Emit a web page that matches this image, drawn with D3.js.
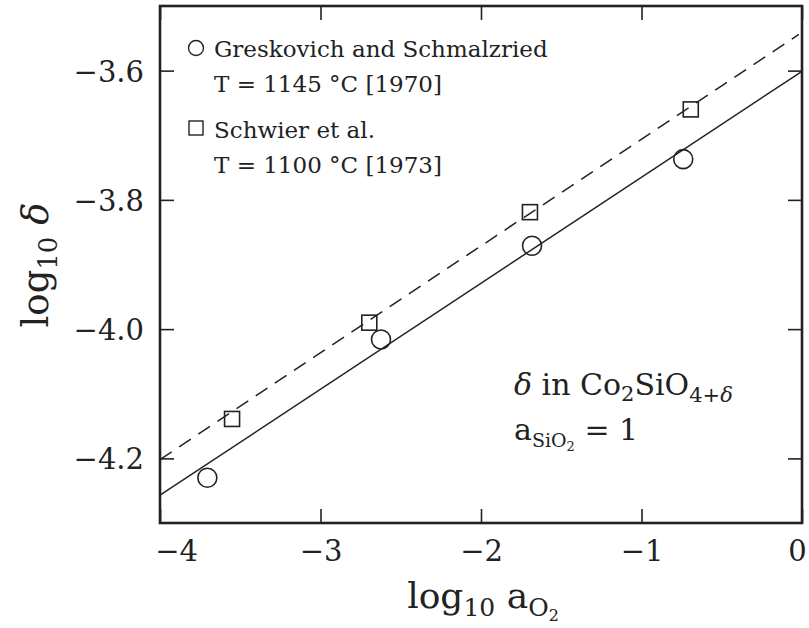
<!DOCTYPE html>
<html><head><meta charset="utf-8">
<script src="https://cdn.jsdelivr.net/npm/d3@7"></script>
<style>
body{margin:0;background:#fff}
text{font-family:"DejaVu Serif",serif;fill:#222}
</style>
</head><body>
<svg id="chart" width="809" height="628"></svg>
<script>
// Greskovich & Schmalzried, T = 1145 °C
const circleX = [-3.705, -2.623, -1.682, -0.740];
const circleY = [-4.230, -4.016, -3.871, -3.737];
// Schwier et al., T = 1100 °C
const squareX = [-3.551, -2.696, -1.695, -0.693];
const squareY = [-4.139, -3.990, -3.819, -3.660];
// straight-line fits through each data set (end points)
const solidFitX = [-4.0, 0.0];
const solidFitY = [-4.257, -3.601];
const dashedFitX = [-4.0, -0.02];
const dashedFitY = [-4.202, -3.544];
// axis ticks
const xTicks = [-4, -3, -2, -1, 0];
const yTicks = [-4.2, -4.0, -3.8, -3.6];

const svg = d3.select("#chart");
const L = 160, R = 802, T = 6, B = 523;
const x = d3.scaleLinear().domain([-4, 0]).range([L, R]);
const y = d3.scaleLinear().domain([-4.3, -3.5]).range([B, T]);
const ink = "#222";
const minus = v => (v < 0 ? "\u2212" : "") + Math.abs(v);
const fmtY = v => (v < 0 ? "\u2212" : "") + d3.format(".1f")(Math.abs(v));

// axes with inward ticks on all four sides
const tick = 14;
const gB = svg.append("g").attr("transform", `translate(0,${B})`)
  .call(d3.axisBottom(x).tickValues(xTicks).tickSize(-tick).tickPadding(17).tickFormat(minus));
const gT = svg.append("g").attr("transform", `translate(0,${T})`)
  .call(d3.axisTop(x).tickValues(xTicks).tickSize(-tick).tickFormat(""));
const gL = svg.append("g").attr("transform", `translate(${L},0)`)
  .call(d3.axisLeft(y).tickValues(yTicks).tickSize(-tick).tickPadding(16).tickFormat(fmtY));
const gR = svg.append("g").attr("transform", `translate(${R},0)`)
  .call(d3.axisRight(y).tickValues(yTicks).tickSize(-tick).tickFormat(""));
[gB, gT, gL, gR].forEach(g => {
  g.select(".domain").remove();
  g.selectAll(".tick line").attr("stroke", ink).attr("stroke-width", 1.6);
  g.selectAll("text").attr("font-family", "DejaVu Serif").attr("font-size", 29).attr("fill", ink);
});
gL.selectAll(".tick text").attr("dy", "0.36em");
gB.selectAll(".tick text").attr("dy", "0.71em")
  .attr("dx", d => d === -4 ? 16 : (d === 0 ? -5 : 0));

// frame
svg.append("rect").attr("x", L).attr("y", T).attr("width", R - L).attr("height", B - T)
  .attr("fill", "none").attr("stroke", ink).attr("stroke-width", 2.6);

// fit lines
const line = d3.line().x(d => x(d[0])).y(d => y(d[1]));
svg.append("path").datum(d3.zip(solidFitX, solidFitY)).attr("d", line)
  .attr("fill", "none").attr("stroke", ink).attr("stroke-width", 1.5);
svg.append("path").datum(d3.zip(dashedFitX, dashedFitY)).attr("d", line)
  .attr("fill", "none").attr("stroke", ink).attr("stroke-width", 1.5)
  .attr("stroke-dasharray", "14,9");

// markers
svg.append("g").selectAll("circle").data(d3.zip(circleX, circleY)).join("circle")
  .attr("cx", d => x(d[0])).attr("cy", d => y(d[1])).attr("r", 9.5)
  .attr("fill", "none").attr("stroke", ink).attr("stroke-width", 1.6);
const sq = 15;
svg.append("g").selectAll("rect").data(d3.zip(squareX, squareY)).join("rect")
  .attr("x", d => x(d[0]) - sq / 2).attr("y", d => y(d[1]) - sq / 2)
  .attr("width", sq).attr("height", sq)
  .attr("fill", "none").attr("stroke", ink).attr("stroke-width", 1.6);

// legend
const lg = svg.append("g").attr("font-size", 23);
lg.append("circle").attr("cx", 196).attr("cy", 48).attr("r", 7.5)
  .attr("fill", "none").attr("stroke", ink).attr("stroke-width", 1.4);
lg.append("text").attr("x", 214).attr("y", 57).text("Greskovich and Schmalzried");
lg.append("text").attr("x", 214).attr("y", 92).text("T = 1145 \u00B0C [1970]");
lg.append("rect").attr("x", 189).attr("y", 121).attr("width", 14).attr("height", 14)
  .attr("fill", "none").attr("stroke", ink).attr("stroke-width", 1.4);
lg.append("text").attr("x", 214).attr("y", 138).text("Schwier et al.");
lg.append("text").attr("x", 214).attr("y", 173).text("T = 1100 \u00B0C [1973]");

// annotation
const an1 = svg.append("text").attr("x", 514).attr("y", 395).attr("font-size", 30);
an1.append("tspan").attr("font-style", "italic").text("\u03B4");
an1.append("tspan").text(" in Co");
an1.append("tspan").attr("font-size", 21).attr("dy", 6).text("2");
an1.append("tspan").attr("dy", -6).text("SiO");
an1.append("tspan").attr("font-size", 21).attr("dy", 7).text("4+");
an1.append("tspan").attr("font-size", 21).attr("font-style", "italic").text("\u03B4");
const an2 = svg.append("text").attr("x", 514).attr("y", 440).attr("font-size", 30);
an2.append("tspan").text("a");
an2.append("tspan").attr("font-size", 19).attr("dy", 7).text("SiO");
an2.append("tspan").attr("font-size", 13).attr("dy", 4).text("2");
an2.append("tspan").attr("dy", -11).text(" = 1");

// axis titles
const xt = svg.append("text").attr("x", 483).attr("y", 608).attr("text-anchor", "middle").attr("font-size", 36);
xt.append("tspan").text("log");
xt.append("tspan").attr("font-size", 25).attr("dy", 8).text("10");
xt.append("tspan").attr("dy", -8).text(" a");
xt.append("tspan").attr("font-size", 25).attr("dy", 8).text("O");
xt.append("tspan").attr("font-size", 16).attr("dy", 5).text("2");

const yt = svg.append("text").attr("transform", "translate(48,265) rotate(-90)")
  .attr("text-anchor", "middle").attr("font-size", 37);
yt.append("tspan").text("log");
yt.append("tspan").attr("font-size", 26).attr("dy", 9).text("10");
yt.append("tspan").attr("dy", -9).attr("font-style", "italic").text(" \u03B4");
</script>
</body></html>
